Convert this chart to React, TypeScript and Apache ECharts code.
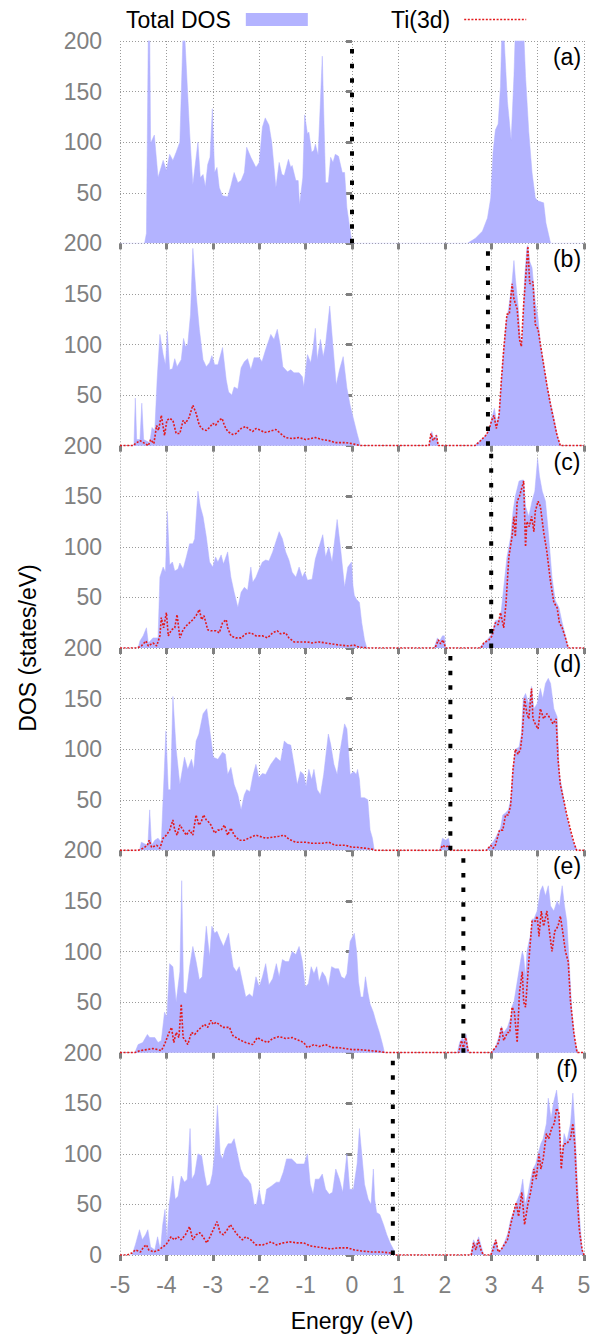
import React, { useEffect, useRef } from 'react';
import * as echarts from 'echarts';

const FONT = '"Liberation Sans", Arial, Helvetica, sans-serif';
const FILL = '#b3b3ff';
const RED = '#e31a1c';
const GRAY = '#808080';

const panelLabels = ['(a)', '(b)', '(c)', '(d)', '(e)', '(f)'];
const fermiLevels = [0, 2.93, 3.0, 2.12, 2.4, 0.88];
const yTicks = [0, 50, 100, 150, 200];

const totalA = [[-5,0],[-4.47,0],[-4.43,10],[-4.39,210],[-4.36,210],[-4.34,99],[-4.26,107],[-4.18,65],[-4.07,82],[-4.0,72],[-3.93,88],[-3.86,82],[-3.79,90],[-3.71,100],[-3.64,210],[-3.61,210],[-3.5,110],[-3.43,58],[-3.32,100],[-3.27,65],[-3.21,68],[-3.16,56],[-3.11,78],[-3.06,85],[-3.01,133],[-2.96,70],[-2.91,75],[-2.86,55],[-2.79,47],[-2.68,46],[-2.61,57],[-2.54,70],[-2.46,60],[-2.39,62],[-2.32,70],[-2.27,95],[-2.18,85],[-2.07,75],[-2.0,80],[-1.93,115],[-1.87,124],[-1.79,117],[-1.73,100],[-1.64,55],[-1.57,80],[-1.51,68],[-1.46,67],[-1.37,83],[-1.32,75],[-1.29,77],[-1.21,62],[-1.16,62],[-1.13,38],[-1.06,65],[-1.02,127],[-0.96,108],[-0.93,110],[-0.87,90],[-0.82,92],[-0.79,98],[-0.73,87],[-0.64,185],[-0.57,60],[-0.51,60],[-0.46,85],[-0.41,80],[-0.36,88],[-0.29,86],[-0.21,70],[-0.16,70],[-0.11,35],[0,0],[2.49,0],[2.66,5],[2.81,12],[2.92,25],[2.99,45],[3.04,90],[3.09,112],[3.15,118],[3.2,155],[3.23,210],[3.27,210],[3.35,140],[3.43,102],[3.49,165],[3.52,210],[3.7,210],[3.74,165],[3.81,110],[3.88,70],[3.95,45],[4.0,42],[4.13,40],[4.18,20],[4.28,0],[5,0]];

const totalB = [[-5,0],[-4.7,0],[-4.67,47],[-4.64,6],[-4.57,6],[-4.53,42],[-4.49,6],[-4.36,3],[-4.31,18],[-4.25,15],[-4.2,65],[-4.14,110],[-4.07,90],[-4.02,80],[-3.98,113],[-3.93,75],[-3.87,76],[-3.82,86],[-3.77,78],[-3.68,85],[-3.63,106],[-3.59,98],[-3.54,100],[-3.48,130],[-3.43,195],[-3.36,150],[-3.29,115],[-3.21,85],[-3.14,78],[-3.07,82],[-3.02,89],[-2.96,80],[-2.89,80],[-2.79,97],[-2.71,65],[-2.66,53],[-2.59,50],[-2.54,58],[-2.46,56],[-2.39,77],[-2.32,83],[-2.25,86],[-2.18,75],[-2.11,87],[-2.0,87],[-1.94,83],[-1.86,95],[-1.75,110],[-1.68,105],[-1.61,115],[-1.55,100],[-1.49,78],[-1.39,73],[-1.32,75],[-1.25,72],[-1.14,72],[-1.07,68],[-1.04,58],[-0.96,90],[-0.89,82],[-0.84,96],[-0.79,116],[-0.75,85],[-0.68,105],[-0.62,88],[-0.57,100],[-0.48,138],[-0.41,98],[-0.34,60],[-0.27,75],[-0.19,88],[-0.11,57],[-0.04,40],[0.04,25],[0.11,12],[0.18,0],[1.66,0],[1.72,14],[1.77,5],[1.82,11],[1.86,0],[2.63,0],[2.77,5],[2.88,10],[2.95,15],[3.01,27],[3.07,37],[3.12,22],[3.17,32],[3.22,66],[3.27,96],[3.32,122],[3.38,137],[3.45,162],[3.49,183],[3.52,166],[3.58,138],[3.63,106],[3.67,101],[3.72,166],[3.77,196],[3.79,198],[3.83,182],[3.88,176],[3.95,142],[4.01,126],[4.06,101],[4.13,81],[4.2,61],[4.28,42],[4.35,28],[4.42,11],[4.49,0],[5,0]];

const tiB = [[-5,0],[-4.71,0],[-4.67,2],[-4.57,5],[-4.46,2],[-4.39,0],[-4.34,6],[-4.27,2],[-4.21,20],[-4.17,15],[-4.11,30],[-4.04,10],[-3.99,25],[-3.93,27],[-3.86,25],[-3.79,12],[-3.71,12],[-3.64,25],[-3.59,22],[-3.51,28],[-3.43,40],[-3.36,32],[-3.29,20],[-3.21,16],[-3.14,15],[-3.07,18],[-3.0,22],[-2.94,20],[-2.87,25],[-2.8,27],[-2.75,20],[-2.68,14],[-2.57,11],[-2.5,12],[-2.39,17],[-2.29,19],[-2.21,16],[-2.14,14],[-2.07,17],[-1.96,15],[-1.89,13],[-1.79,14],[-1.64,16],[-1.54,12],[-1.43,8],[-1.29,7],[-1.14,8],[-1.0,6],[-0.79,8],[-0.64,6],[-0.5,5],[-0.36,3],[-0.14,3],[0,2],[0.1,1],[0.18,0],[1.66,0],[1.7,12],[1.75,5],[1.82,10],[1.86,0],[2.65,0],[2.77,5],[2.88,10],[2.95,15],[3.01,25],[3.06,30],[3.11,17],[3.17,30],[3.22,65],[3.27,95],[3.34,130],[3.39,130],[3.45,160],[3.49,145],[3.56,135],[3.61,105],[3.65,98],[3.7,140],[3.75,170],[3.79,197],[3.83,160],[3.9,162],[3.95,120],[4.01,115],[4.06,100],[4.13,80],[4.2,60],[4.28,40],[4.35,25],[4.42,10],[4.49,0],[5,0]];

const totalC = [[-5,0],[-4.61,0],[-4.57,7],[-4.5,12],[-4.43,20],[-4.39,5],[-4.29,10],[-4.18,10],[-4.14,70],[-4.07,80],[-4.02,75],[-3.98,135],[-3.93,82],[-3.87,85],[-3.82,76],[-3.75,78],[-3.71,84],[-3.64,78],[-3.57,90],[-3.5,103],[-3.43,103],[-3.39,108],[-3.32,155],[-3.27,140],[-3.21,130],[-3.14,110],[-3.07,85],[-3.0,80],[-2.94,90],[-2.89,85],[-2.82,92],[-2.77,83],[-2.68,95],[-2.61,70],[-2.54,55],[-2.46,40],[-2.39,55],[-2.32,60],[-2.25,57],[-2.18,80],[-2.14,65],[-2.07,70],[-2.0,78],[-1.93,85],[-1.86,87],[-1.79,86],[-1.71,95],[-1.64,105],[-1.57,115],[-1.5,108],[-1.43,95],[-1.36,87],[-1.29,75],[-1.21,70],[-1.14,80],[-1.07,70],[-1.02,75],[-0.96,67],[-0.86,68],[-0.79,88],[-0.71,100],[-0.63,112],[-0.57,90],[-0.5,100],[-0.43,85],[-0.32,127],[-0.25,100],[-0.16,60],[-0.09,80],[-0.01,85],[0.02,62],[0.05,52],[0.1,48],[0.16,45],[0.21,25],[0.27,8],[0.32,0],[1.77,0],[1.84,10],[1.89,7],[1.95,12],[1.99,12],[2.02,0],[2.74,0],[2.84,5],[2.95,10],[3.02,15],[3.09,27],[3.17,28],[3.22,38],[3.27,60],[3.34,90],[3.42,110],[3.47,135],[3.52,150],[3.6,165],[3.67,166],[3.7,166],[3.74,140],[3.81,130],[3.88,145],[3.94,155],[4.0,187],[4.04,170],[4.1,155],[4.17,145],[4.24,110],[4.31,70],[4.38,47],[4.46,40],[4.53,25],[4.6,12],[4.66,0],[5,0]];

const tiC = [[-5,0],[-4.64,0],[-4.54,2],[-4.44,7],[-4.39,2],[-4.29,5],[-4.21,2],[-4.14,12],[-4.11,30],[-4.06,20],[-4.0,35],[-3.96,12],[-3.89,18],[-3.82,20],[-3.77,33],[-3.71,10],[-3.64,18],[-3.57,22],[-3.5,25],[-3.43,28],[-3.36,32],[-3.29,38],[-3.24,28],[-3.19,32],[-3.11,18],[-3.04,17],[-2.93,17],[-2.86,15],[-2.79,25],[-2.71,28],[-2.68,20],[-2.61,12],[-2.5,10],[-2.39,10],[-2.29,14],[-2.18,15],[-2.07,12],[-1.93,12],[-1.82,10],[-1.71,15],[-1.61,17],[-1.54,14],[-1.43,15],[-1.36,10],[-1.25,6],[-1.11,6],[-0.96,6],[-0.86,5],[-0.71,6],[-0.57,5],[-0.43,4],[-0.29,3],[-0.07,2],[0.04,3],[0.14,1],[0.33,0],[1.79,0],[1.86,8],[1.91,4],[1.96,8],[2.02,0],[2.78,0],[2.84,5],[2.95,8],[3.02,12],[3.09,25],[3.15,23],[3.2,35],[3.27,20],[3.32,45],[3.38,90],[3.45,110],[3.49,130],[3.52,110],[3.56,145],[3.61,150],[3.67,160],[3.7,165],[3.74,100],[3.77,125],[3.82,120],[3.87,130],[3.92,115],[3.95,135],[4.01,145],[4.06,140],[4.13,115],[4.2,95],[4.28,65],[4.35,45],[4.42,40],[4.47,25],[4.53,20],[4.6,10],[4.66,0],[5,0]];

const totalD = [[-5,0],[-4.58,0],[-4.54,8],[-4.45,6],[-4.4,5],[-4.36,40],[-4.32,5],[-4.25,10],[-4.18,12],[-4.11,8],[-4.01,118],[-3.96,60],[-3.91,60],[-3.86,152],[-3.79,100],[-3.71,65],[-3.61,92],[-3.54,80],[-3.46,90],[-3.41,80],[-3.36,108],[-3.3,115],[-3.21,135],[-3.13,140],[-3.04,110],[-2.99,92],[-2.89,90],[-2.79,97],[-2.73,95],[-2.68,75],[-2.61,82],[-2.54,65],[-2.46,55],[-2.39,40],[-2.32,55],[-2.27,60],[-2.2,58],[-2.13,75],[-2.07,85],[-2.01,72],[-1.93,76],[-1.86,75],[-1.75,85],[-1.64,92],[-1.54,88],[-1.46,108],[-1.39,105],[-1.32,104],[-1.25,85],[-1.18,65],[-1.11,78],[-1.04,75],[-0.99,63],[-0.93,80],[-0.87,70],[-0.82,80],[-0.75,60],[-0.68,55],[-0.61,75],[-0.51,115],[-0.46,105],[-0.39,85],[-0.32,75],[-0.25,100],[-0.16,125],[-0.11,120],[-0.04,75],[0.04,78],[0.09,75],[0.12,80],[0.16,70],[0.19,52],[0.27,52],[0.34,50],[0.39,20],[0.44,12],[0.48,0],[1.89,0],[1.95,12],[2.02,10],[2.08,12],[2.13,0],[2.88,0],[2.99,5],[3.09,12],[3.2,22],[3.25,35],[3.31,37],[3.37,40],[3.42,50],[3.47,82],[3.52,100],[3.6,102],[3.65,115],[3.69,150],[3.74,155],[3.81,145],[3.87,162],[3.92,140],[3.99,145],[4.06,160],[4.11,150],[4.17,165],[4.23,170],[4.28,165],[4.35,140],[4.42,132],[4.47,75],[4.53,60],[4.6,40],[4.67,25],[4.74,12],[4.81,4],[4.86,0],[5,0]];

const tiD = [[-5,0],[-4.61,0],[-4.5,2],[-4.41,5],[-4.37,10],[-4.32,3],[-4.21,5],[-4.14,2],[-4.07,12],[-4.0,15],[-3.93,20],[-3.86,30],[-3.82,20],[-3.77,15],[-3.71,25],[-3.64,20],[-3.57,15],[-3.5,20],[-3.43,15],[-3.36,35],[-3.3,25],[-3.25,28],[-3.2,35],[-3.14,30],[-3.09,28],[-3.04,25],[-2.96,17],[-2.89,20],[-2.82,20],[-2.75,25],[-2.68,15],[-2.61,22],[-2.54,15],[-2.43,10],[-2.32,10],[-2.18,13],[-2.07,15],[-2.0,14],[-1.86,12],[-1.71,13],[-1.57,14],[-1.46,15],[-1.36,11],[-1.21,8],[-1.0,8],[-0.86,7],[-0.64,7],[-0.5,8],[-0.36,5],[-0.14,5],[0,3],[0.11,3],[0.3,2],[0.44,1],[0.5,0],[1.9,0],[1.95,5],[2.02,3],[2.08,5],[2.13,0],[2.9,0],[2.99,5],[3.04,2],[3.09,5],[3.18,20],[3.25,20],[3.31,35],[3.37,35],[3.42,45],[3.47,80],[3.52,100],[3.58,95],[3.63,100],[3.67,115],[3.72,150],[3.77,135],[3.81,130],[3.87,160],[3.9,130],[3.95,125],[4.01,120],[4.06,140],[4.13,130],[4.2,135],[4.28,130],[4.33,125],[4.4,130],[4.44,90],[4.49,65],[4.56,50],[4.63,35],[4.71,20],[4.78,8],[4.84,0],[5,0]];

const totalE = [[-5,0],[-4.68,0],[-4.61,8],[-4.51,10],[-4.41,18],[-4.36,15],[-4.25,15],[-4.18,10],[-4.11,12],[-4.04,40],[-3.99,35],[-3.93,88],[-3.86,85],[-3.79,50],[-3.71,80],[-3.67,170],[-3.63,60],[-3.57,58],[-3.5,85],[-3.43,105],[-3.36,90],[-3.29,72],[-3.23,75],[-3.14,125],[-3.07,95],[-3.02,125],[-2.96,118],[-2.91,120],[-2.84,112],[-2.77,105],[-2.71,112],[-2.66,118],[-2.61,100],[-2.56,85],[-2.49,80],[-2.43,85],[-2.36,70],[-2.29,55],[-2.21,58],[-2.14,55],[-2.07,75],[-2.0,65],[-1.93,75],[-1.86,88],[-1.79,67],[-1.71,73],[-1.63,88],[-1.57,75],[-1.5,92],[-1.43,90],[-1.36,90],[-1.29,100],[-1.21,97],[-1.14,105],[-1.07,90],[-1.01,65],[-0.94,68],[-0.88,85],[-0.82,78],[-0.76,85],[-0.71,70],[-0.64,80],[-0.57,75],[-0.51,65],[-0.44,85],[-0.36,83],[-0.29,83],[-0.23,75],[-0.16,73],[-0.11,78],[-0.04,110],[0.05,118],[0.1,100],[0.14,70],[0.19,55],[0.24,55],[0.29,75],[0.34,60],[0.39,48],[0.46,40],[0.52,30],[0.59,20],[0.66,8],[0.7,0],[2.27,0],[2.32,10],[2.38,15],[2.42,12],[2.46,18],[2.52,0],[2.99,0],[3.09,5],[3.16,15],[3.22,26],[3.27,20],[3.35,25],[3.42,35],[3.45,46],[3.49,50],[3.56,70],[3.63,90],[3.67,100],[3.7,95],[3.74,75],[3.77,100],[3.84,115],[3.88,132],[3.92,132],[3.99,140],[4.06,160],[4.11,165],[4.17,155],[4.23,165],[4.28,145],[4.35,140],[4.42,150],[4.47,145],[4.53,165],[4.58,145],[4.63,130],[4.68,90],[4.74,40],[4.81,10],[4.87,0],[5,0]];

const tiE = [[-5,0],[-4.68,0],[-4.57,2],[-4.43,3],[-4.29,4],[-4.18,3],[-4.11,2],[-4.04,8],[-3.96,18],[-3.89,25],[-3.84,10],[-3.79,20],[-3.73,15],[-3.68,48],[-3.64,15],[-3.59,12],[-3.54,8],[-3.46,20],[-3.39,18],[-3.32,22],[-3.25,25],[-3.18,28],[-3.11,25],[-3.04,32],[-2.99,28],[-2.93,30],[-2.86,28],[-2.79,25],[-2.71,25],[-2.64,25],[-2.57,17],[-2.5,15],[-2.39,12],[-2.29,10],[-2.14,8],[-2.04,15],[-1.93,12],[-1.82,10],[-1.71,14],[-1.57,16],[-1.43,14],[-1.29,15],[-1.14,12],[-1.04,10],[-0.96,5],[-0.82,8],[-0.71,6],[-0.57,8],[-0.43,5],[-0.29,5],[-0.14,4],[0,3],[0.14,3],[0.4,2],[0.6,1],[0.73,0],[2.3,0],[2.36,12],[2.4,5],[2.45,15],[2.5,2],[2.53,0],[3.0,0],[3.09,5],[3.16,10],[3.22,25],[3.27,12],[3.35,20],[3.4,20],[3.45,45],[3.5,40],[3.56,10],[3.61,60],[3.67,80],[3.7,50],[3.74,45],[3.81,90],[3.88,130],[3.95,130],[3.99,135],[4.03,115],[4.08,140],[4.13,125],[4.2,140],[4.24,125],[4.31,100],[4.37,120],[4.44,125],[4.49,135],[4.54,120],[4.6,100],[4.66,90],[4.71,50],[4.78,20],[4.85,0],[5,0]];

const totalF = [[-5,0],[-4.74,0],[-4.67,10],[-4.58,25],[-4.52,15],[-4.45,20],[-4.4,25],[-4.34,8],[-4.25,5],[-4.19,18],[-4.13,5],[-4.08,30],[-4.03,45],[-3.99,14],[-3.94,50],[-3.86,78],[-3.81,55],[-3.75,58],[-3.68,78],[-3.61,72],[-3.55,75],[-3.49,125],[-3.45,75],[-3.39,80],[-3.32,100],[-3.24,98],[-3.18,80],[-3.13,68],[-3.06,70],[-3.01,80],[-2.96,100],[-2.9,148],[-2.84,100],[-2.79,95],[-2.73,105],[-2.67,110],[-2.6,110],[-2.54,115],[-2.47,100],[-2.4,85],[-2.33,78],[-2.25,75],[-2.18,70],[-2.11,50],[-2.06,50],[-2.0,65],[-1.94,50],[-1.89,50],[-1.84,65],[-1.74,68],[-1.63,72],[-1.56,72],[-1.48,82],[-1.41,95],[-1.3,95],[-1.19,90],[-1.1,90],[-1.03,90],[-0.96,100],[-0.9,70],[-0.84,60],[-0.79,75],[-0.71,75],[-0.64,80],[-0.57,65],[-0.49,60],[-0.42,62],[-0.35,85],[-0.27,75],[-0.2,62],[-0.11,100],[-0.05,65],[0.03,65],[0.11,90],[0.16,125],[0.22,95],[0.27,70],[0.35,55],[0.41,50],[0.46,85],[0.49,55],[0.53,42],[0.6,40],[0.68,30],[0.75,20],[0.82,12],[0.9,5],[0.93,0],[2.56,0],[2.62,15],[2.67,10],[2.73,18],[2.79,8],[2.84,0],[2.99,0],[3.04,10],[3.1,15],[3.15,5],[3.21,5],[3.28,12],[3.35,20],[3.42,35],[3.5,45],[3.54,52],[3.57,55],[3.63,62],[3.68,75],[3.73,50],[3.79,60],[3.85,75],[3.9,85],[3.96,90],[4.01,100],[4.07,110],[4.12,115],[4.19,130],[4.23,155],[4.29,135],[4.34,150],[4.41,163],[4.46,140],[4.52,95],[4.57,120],[4.63,112],[4.71,130],[4.76,160],[4.8,130],[4.85,80],[4.9,40],[4.96,5],[5,0]];

const tiF = [[-5,0],[-4.85,0],[-4.74,2],[-4.67,5],[-4.56,3],[-4.49,8],[-4.43,10],[-4.38,5],[-4.27,3],[-4.16,5],[-4.08,8],[-4.01,10],[-3.9,18],[-3.83,15],[-3.75,18],[-3.68,15],[-3.59,20],[-3.5,28],[-3.43,15],[-3.36,20],[-3.28,22],[-3.21,18],[-3.13,12],[-3.06,18],[-2.99,25],[-2.91,33],[-2.84,22],[-2.77,20],[-2.69,25],[-2.62,30],[-2.55,25],[-2.47,20],[-2.36,15],[-2.29,18],[-2.18,15],[-2.07,10],[-1.92,10],[-1.74,13],[-1.63,10],[-1.48,12],[-1.34,13],[-1.19,12],[-1.04,12],[-0.9,9],[-0.75,8],[-0.6,7],[-0.46,6],[-0.31,7],[-0.09,7],[0.05,5],[0.2,4],[0.42,3],[0.64,3],[0.82,2],[0.88,1],[0.93,0],[2.57,0],[2.62,12],[2.67,5],[2.72,15],[2.78,5],[2.83,0],[2.99,0],[3.04,5],[3.1,15],[3.15,3],[3.21,5],[3.28,10],[3.35,15],[3.42,30],[3.5,45],[3.54,52],[3.59,38],[3.66,62],[3.72,30],[3.79,50],[3.84,60],[3.88,70],[3.92,85],[3.97,75],[4.03,100],[4.07,85],[4.12,95],[4.19,120],[4.24,115],[4.3,125],[4.36,130],[4.41,145],[4.46,140],[4.51,85],[4.56,110],[4.63,110],[4.71,115],[4.76,130],[4.8,110],[4.85,60],[4.9,25],[4.96,5],[5,0]];

const totals = [totalA, totalB, totalC, totalD, totalE, totalF];
const tis: (number[][] | null)[] = [null, tiB, tiC, tiD, tiE, tiF];

export default function App() {
  const ref = useRef<HTMLDivElement>(null);
  useEffect(() => {
    document.body.style.margin = '0';
    const chart = echarts.init(ref.current!, null, { renderer: 'svg' });
    const N = 6;
    const top0 = 41;
    const h = 1214 / 6;
    const grids: any[] = [];
    const xAxes: any[] = [];
    const yAxes: any[] = [];
    const series: any[] = [];
    const graphics: any[] = [];
    for (let i = 0; i < N; i++) {
      const last = i === N - 1;
      grids.push({ left: 120, width: 464, top: top0 + i * h, height: h });
      xAxes.push({
        type: 'value', gridIndex: i, min: -5, max: 5, interval: 1,
        axisLine: { show: false },
        axisTick: { show: true, length: 6, lineStyle: { color: GRAY, width: 3 } },
        axisLabel: { show: last, fontSize: 23, color: GRAY, fontFamily: FONT, margin: 18 },
        splitLine: { show: true, lineStyle: { color: '#9a9a9a', width: 1, type: [1, 2] } },
        name: last ? 'Energy (eV)' : '',
        nameLocation: 'middle', nameGap: 54,
        nameTextStyle: { fontSize: 23, color: '#000', fontFamily: FONT },
      });
      yAxes.push({
        type: 'value', gridIndex: i, min: yTicks[0], max: yTicks[yTicks.length - 1], interval: 50,
        axisLine: { show: false },
        axisTick: { show: true, length: 6, lineStyle: { color: GRAY, width: 3 } },
        axisLabel: {
          fontSize: 23, color: GRAY, fontFamily: FONT, margin: 18,
          formatter: (v: number) => (v === 0 && !last ? '' : String(v)),
        },
        splitLine: { show: true, lineStyle: { color: '#9a9a9a', width: 1, type: [1, 2] } },
      });
      series.push({
        name: 'Total DOS', type: 'line', xAxisIndex: i, yAxisIndex: i,
        data: totals[i], symbol: 'none', clip: true,
        lineStyle: { width: 0.5, color: FILL },
        itemStyle: { color: FILL },
        areaStyle: { color: FILL, opacity: 1 },
        z: 2, silent: true,
      });
      const ti = tis[i];
      if (ti) {
        series.push({
          name: 'Ti(3d)', type: 'line', xAxisIndex: i, yAxisIndex: i,
          data: ti, symbol: 'none', showSymbol: false, clip: true,
          lineStyle: { width: 1.6, color: RED, type: [2, 1.6] },
          itemStyle: { color: RED },
          z: 3, silent: true,
        });
      }
      series.push({
        name: 'Fermi level', type: 'line', xAxisIndex: i, yAxisIndex: i,
        data: [[fermiLevels[i], 0], [fermiLevels[i], 197]], symbol: 'none',
        lineStyle: { width: 4, color: '#000', type: [4.5, 10.1] },
        z: 4, silent: true,
      });
      graphics.push({
        type: 'text', x: 567, y: top0 + i * h + 16,
        style: { text: panelLabels[i], fill: '#000', font: `23px ${FONT}`, textAlign: 'center', textVerticalAlign: 'middle' },
      });
    }
    graphics.push({
      type: 'text', x: 28, y: 648, rotation: Math.PI / 2,
      style: { text: 'DOS (states/eV)', fill: '#000', font: `23px ${FONT}`, textAlign: 'center', textVerticalAlign: 'middle' },
    });
    chart.setOption({
      animation: false,
      backgroundColor: '#fff',
      grid: grids,
      xAxis: xAxes,
      yAxis: yAxes,
      legend: [
        {
          data: [{ name: 'Total DOS', icon: 'rect' }], left: 121, top: 3, align: 'right',
          itemWidth: 62, itemHeight: 13, selectedMode: false,
          textStyle: { fontSize: 23, color: '#000', fontFamily: FONT, padding: [0, 10, 0, 0] },
        },
        {
          data: [{ name: 'Ti(3d)' }], left: 386, top: 3, align: 'right',
          itemWidth: 62, itemHeight: 13, selectedMode: false,
          itemStyle: { opacity: 0 },
          lineStyle: { color: RED, width: 1.6, type: [2, 1.6] },
          textStyle: { fontSize: 23, color: '#000', fontFamily: FONT, padding: [0, 9, 0, 0] },
        },
      ],
      series,
      graphic: graphics,
    });
    return () => chart.dispose();
  }, []);
  return <div ref={ref} style={{ width: 594, height: 1337 }} />;
}
